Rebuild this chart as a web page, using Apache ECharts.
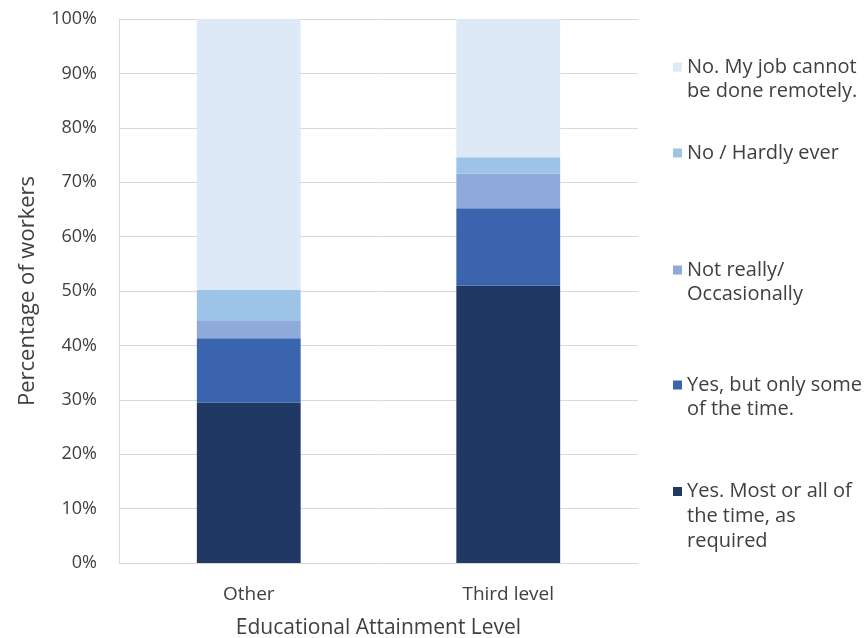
<!DOCTYPE html>
<html><head><meta charset="utf-8">
<script src="https://cdn.jsdelivr.net/npm/echarts@6/dist/echarts.min.js"></script>
<style>html,body{margin:0;padding:0;background:#fff}#c{width:868px;height:638px}</style>
</head><body><div id="c"></div>
<script>
const categories = ['Other', 'Third level'];
const seriesNames = [
  'Yes. Most or all of\nthe time, as\nrequired',
  'Yes, but only some\nof the time.',
  'Not really/\nOccasionally',
  'No / Hardly ever',
  'No. My job cannot\nbe done remotely.'
];
const yesMost = [29.5, 51.0];
const yesSome = [11.8, 14.2];
const notReally = [3.2, 6.4];
const noHardly = [5.7, 3.0];
const noCannot = [49.8, 25.4];
const yTicks = [0, 10, 20, 30, 40, 50, 60, 70, 80, 90, 100];

const values = [yesMost, yesSome, notReally, noHardly, noCannot];
const colors = ['#203864', '#3a64ad', '#8eaadb', '#9dc3e6', '#dde9f6'];
const FONT = 'Open Sans';
const legendTops = [479, 373, 258, 141, 55];
const legendLH = [25, 24, 24, 24, 24];

function legendIcon(n, lh) {
  const h = n * lh, s = 9, o = (lh - s) / 2;
  return 'path://M0,0L' + s + ',0M0,' + o + 'L' + s + ',' + o + 'L' + s + ',' + (o + s) +
    'L0,' + (o + s) + 'ZM0,' + h + 'L' + s + ',' + h;
}

const chart = echarts.init(document.getElementById('c'), null, {renderer: 'canvas'});
chart.setOption({
  animation: false,
  textStyle: {fontFamily: FONT},
  grid: {left: 119, right: 230, top: 19, bottom: 75, outerBoundsMode: 'none', containLabel: false},
  xAxis: {
    type: 'category', data: categories,
    axisLine: {lineStyle: {color: '#d9d9d9'}},
    axisTick: {show: false},
    axisLabel: {color: '#404040', fontSize: 19, margin: 22, fontFamily: FONT},
    name: 'Educational Attainment Level', nameLocation: 'middle', nameGap: 55,
    nameTextStyle: {color: '#404040', fontSize: 21, fontFamily: FONT}
  },
  yAxis: {
    type: 'value', min: 0, max: 100, interval: 10,
    axisLine: {show: true, lineStyle: {color: '#d9d9d9'}},
    axisLabel: {color: '#404040', fontSize: 18, margin: 22, fontFamily: FONT,
      formatter: v => yTicks.includes(v) ? v + '%' : ''},
    splitLine: {lineStyle: {color: '#d9d9d9'}},
    name: 'Percentage of workers', nameLocation: 'middle', nameGap: 80, nameRotate: 90,
    nameTextStyle: {color: '#404040', fontSize: 22, fontFamily: FONT}
  },
  legend: seriesNames.map((n, i) => {
    const lines = n.split('\n').length;
    const lh = legendLH[i];
    return {
      orient: 'vertical', left: 673, top: legendTops[i], padding: 0,
      data: [n], itemWidth: 9, itemHeight: lines * lh, icon: legendIcon(lines, lh), itemGap: 0,
      textStyle: {color: '#404040', fontSize: 20, fontFamily: FONT, lineHeight: lh}
    };
  }),
  series: seriesNames.map((n, i) => ({
    name: n, type: 'bar', stack: 'total', data: values[i],
    barWidth: '40%', itemStyle: {color: colors[i]}
  }))
});
</script></body></html>
